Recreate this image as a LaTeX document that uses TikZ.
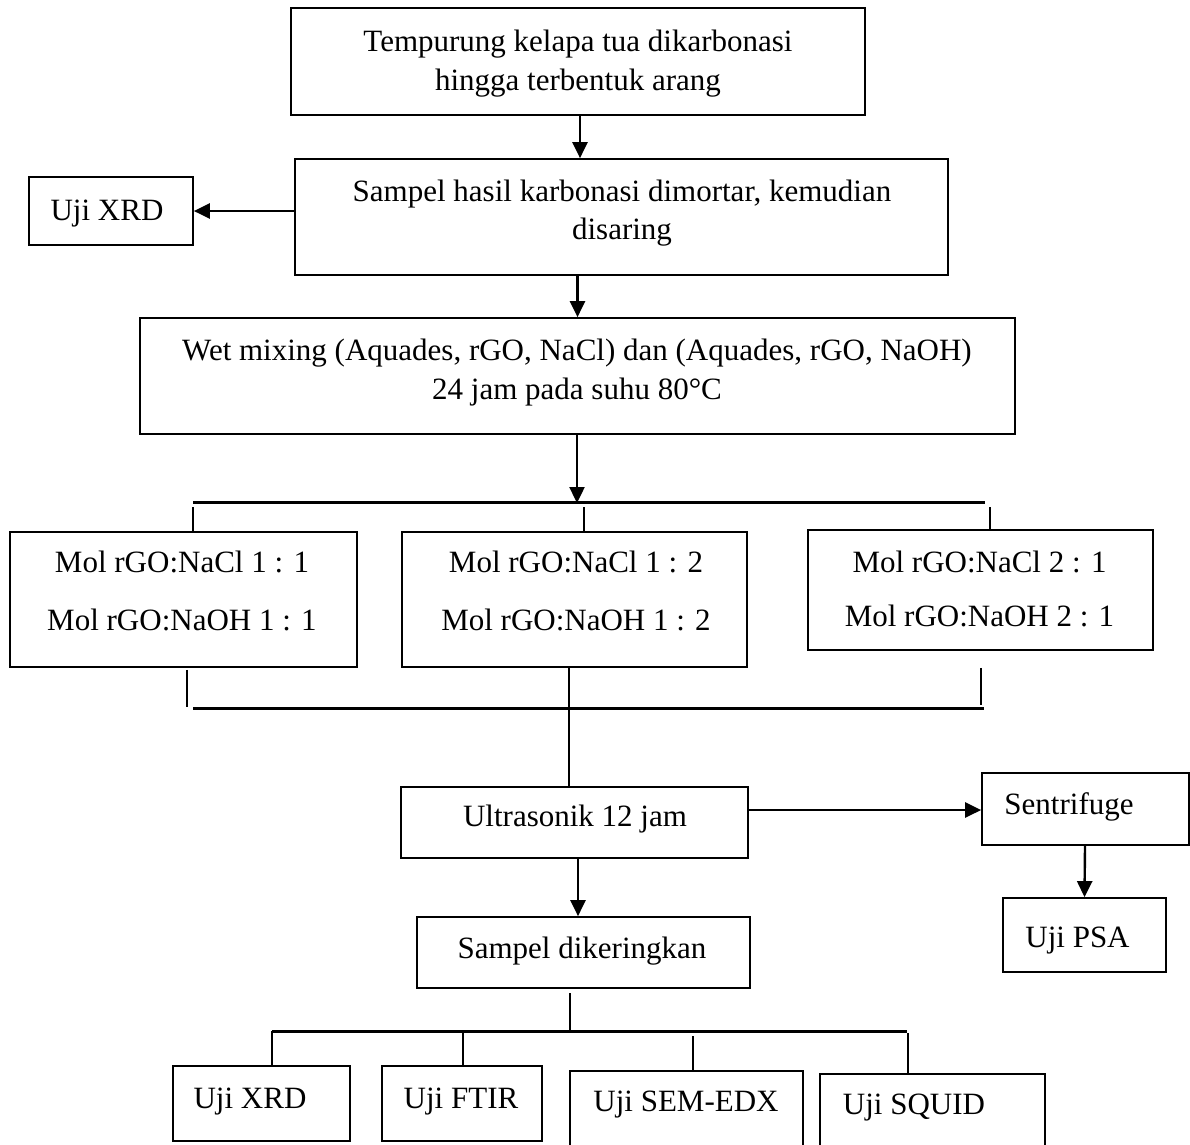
\documentclass[tikz,border=0pt]{standalone}
\usepackage{fontspec}
\setmainfont{Liberation Serif}
\usetikzlibrary{arrows.meta,calc}
\begin{document}
\begin{tikzpicture}[x=1pt,y=-1pt,
  box/.style={draw,line width=1.7pt,inner sep=0pt},
  txt/.style={font=\fontsize{31}{37}\selectfont,inner sep=0pt,anchor=base},
  ln/.style={line width=2pt},
  bar/.style={line width=3pt},
  arr/.style={line width=2.4pt,-{Triangle[length=16pt,width=15pt]}}]
\clip (0,0) rectangle (1190,1144);
\fill[white] (0,0) rectangle (1190,1144);
% boxes
\node[box,minimum width=574pt,minimum height=107pt] (b1) at (578,61.5) {};
\node[box,minimum width=653pt,minimum height=116pt] (b2) at (621.5,217) {};
\node[box,minimum width=164pt,minimum height=68pt] (xrd1) at (111,211) {};
\node[box,minimum width=875pt,minimum height=116pt] (b3) at (577.5,376) {};
\node[box,minimum width=347pt,minimum height=135pt] (mA) at (183.5,599.5) {};
\node[box,minimum width=345pt,minimum height=135pt] (mB) at (574.5,599.5) {};
\node[box,minimum width=345pt,minimum height=120pt] (mC) at (980.5,590) {};
\node[box,minimum width=347pt,minimum height=71pt] (ul) at (574.5,822.5) {};
\node[box,minimum width=207pt,minimum height=72pt] (sen) at (1085.5,809) {};
\node[box,minimum width=163pt,minimum height=74pt] (psa) at (1084.5,935) {};
\node[box,minimum width=333pt,minimum height=71pt] (sd) at (583.5,952.5) {};
\node[box,minimum width=177pt,minimum height=75pt] (uxrd) at (261.5,1103.5) {};
\node[box,minimum width=160pt,minimum height=75pt] (uftir) at (462,1103.5) {};
\node[box,minimum width=233pt,minimum height=90pt] (usem) at (686.5,1116) {};
\node[box,minimum width=225pt,minimum height=90pt] (usquid) at (932.5,1119) {};
% texts (anchored at baselines)
\node[txt] (t1a) at (578,51) {Tempurung kelapa tua dikarbonasi};
\node[txt] (t1b) at (578,90) {hingga terbentuk arang};
\node[txt] (t2a) at (622,201) {Sampel hasil karbonasi dimortar, kemudian};
\node[txt] (t2b) at (622,239) {disaring};
\node[txt] (t3) at (107,220) {Uji XRD};
\node[txt] (t4a) at (577,360) {Wet mixing (Aquades, rGO, NaCl) dan (Aquades, rGO, NaOH)};
\node[txt] (t4b) at (577,399) {24 jam pada suhu 80°C};
\node[txt] (tAa) at (182,572) {Mol rGO:NaCl 1 : 1};
\node[txt] (tAb) at (182,630) {Mol rGO:NaOH 1 : 1};
\node[txt] (tBa) at (576,572) {Mol rGO:NaCl 1 : 2};
\node[txt] (tBb) at (576,630) {Mol rGO:NaOH 1 : 2};
\node[txt] (tCa) at (979.5,572) {Mol rGO:NaCl 2 : 1};
\node[txt] (tCb) at (979.5,626) {Mol rGO:NaOH 2 : 1};
\node[txt] (tul) at (575,826) {Ultrasonik 12 jam};
\node[txt] (tsen) at (1069,814) {Sentrifuge};
\node[txt] (tpsa) at (1077.5,947) {Uji PSA};
\node[txt] (tsd) at (582,958) {Sampel dikeringkan};
\node[txt] (tx2) at (250,1108) {Uji XRD};
\node[txt] (tft) at (461,1108) {Uji FTIR};
\node[txt] (tsem) at (686,1111) {Uji SEM-EDX};
\node[txt] (tsq) at (914,1114) {Uji SQUID};
% coordinates
\coordinate (h1) at (577,503);
\coordinate (h1L) at (193,502);
\coordinate (h1R) at (985,502);
\coordinate (dA) at (193,507);
\coordinate (dB) at (584,507);
\coordinate (dC) at (990,507);
\coordinate (h2L) at (193,708);
\coordinate (h2R) at (984,708);
\coordinate (uA) at (187,707);
\coordinate (uC) at (981,705);
\coordinate (uB) at (569,667);
\coordinate (sdb) at (570,993);
\coordinate (h3) at (570,1031);
\coordinate (h3L) at (272,1031);
\coordinate (h3R) at (907,1031);
\coordinate (e1) at (272,1031);
\coordinate (e2) at (463,1031);
\coordinate (e3) at (693,1036);
\coordinate (e4) at (908,1033);
% connectors
\draw[arr] (b1.south -| 580,0) -- (b2.north -| 580,0);
\draw[arr] (b2.west |- xrd1.east) -- (xrd1.east);
\draw[arr] (b2.south -| b3.north) -- (b3.north);
\draw[arr] (b3.south -| h1) -- (h1);
\draw[bar] (h1L) -- (h1R);
\draw[ln] (dA) -- (dA |- mA.north);
\draw[ln] (dB) -- (dB |- mB.north);
\draw[ln] (dC) -- (dC |- mC.north);
\draw[ln] (uA |- mA.south) ++(0,2) -- (uA);
\draw[ln] (uC |- mC.south) ++(0,17) -- (uC);
\draw[ln] (uB) -- (uB |- ul.north);
\draw[bar] (h2L) -- (h2R);
\draw[arr] (ul.east |- 0,810) -- (sen.west |- 0,810);
\draw[arr] (sen.south -| psa.north) ++(0.5,0) -- (psa.north);
\draw[arr] (ul.south -| 578,0) -- (sd.north -| 578,0);
\draw[ln] (sdb) -- (h3);
\draw[bar] (h3L) -- (h3R);
\draw[ln] (e1) -- (e1 |- uxrd.north);
\draw[ln] (e2) -- (e2 |- uftir.north);
\draw[ln] (e3) -- (e3 |- usem.north);
\draw[ln] (e4) -- (e4 |- usquid.north);
\end{tikzpicture}
\end{document}
